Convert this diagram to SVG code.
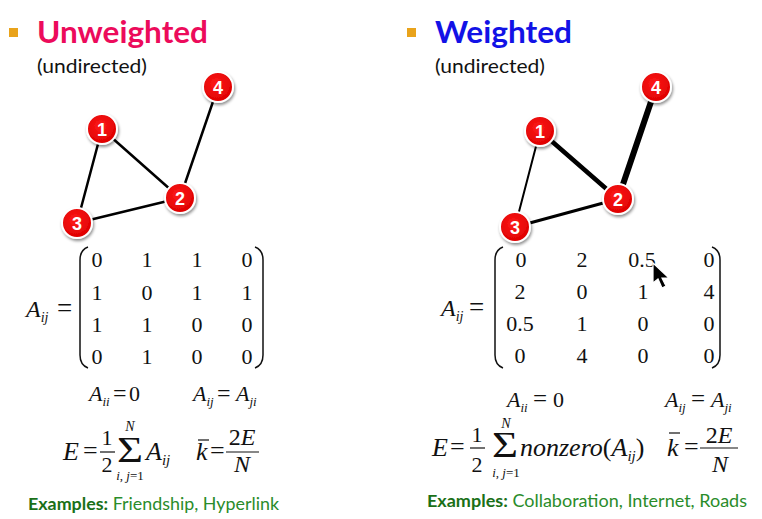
<svg xmlns="http://www.w3.org/2000/svg" width="762" height="519" viewBox="0 0 762 519">
<defs>
<filter id="sh" x="-40%" y="-40%" width="180%" height="180%">
<feDropShadow dx="1" dy="2" stdDeviation="1.5" flood-color="#000" flood-opacity="0.45"/>
</filter>
<radialGradient id="rg" cx="45%" cy="40%" r="60%">
<stop offset="0" stop-color="#FF1A1A"/>
<stop offset="1" stop-color="#DD0000"/>
</radialGradient>
</defs>
<style>
.bullet{fill:#E9A31B}
.title{font-family:Lato,"Liberation Sans",sans-serif;font-weight:bold;font-size:30px}
.sub{font-family:Lato,"Liberation Sans",sans-serif;font-size:19px;fill:#111}
.node circle{fill:url(#rg);stroke:#fff;stroke-width:2;filter:url(#sh)}
.node text{font-family:"Liberation Sans",Arial,sans-serif;font-weight:bold;font-size:18px;fill:#fff;text-anchor:middle}
.edge{stroke:#000;stroke-linecap:round}
.m{font-family:"Liberation Serif","Times New Roman",serif;fill:#111}
.mi{font-family:"Liberation Serif","Times New Roman",serif;font-style:italic;fill:#111}
.num{font-family:"Liberation Serif","Times New Roman",serif;font-size:22px;fill:#111;text-anchor:middle}
.par{fill:none;stroke:#111;stroke-width:1.5}
.fl{stroke:#111;stroke-width:1.2}
.ex{font-family:Lato,"Liberation Sans",sans-serif;font-size:17px;fill:#2A8C2A}
.exb{font-weight:bold;fill:#1A7018}
</style>

<!-- Left header -->
<rect class="bullet" x="9" y="28" width="9" height="9"/>
<text class="title" x="37" y="43" fill="#EC0B5B" textLength="171" lengthAdjust="spacingAndGlyphs">Unweighted</text>
<text class="sub" x="37" y="73" textLength="110" lengthAdjust="spacingAndGlyphs">(undirected)</text>

<!-- Right header -->
<rect class="bullet" x="407" y="28" width="9" height="9"/>
<text class="title" x="435" y="43" fill="#1212E6" textLength="137" lengthAdjust="spacingAndGlyphs">Weighted</text>
<text class="sub" x="435" y="73" textLength="110" lengthAdjust="spacingAndGlyphs">(undirected)</text>

<!-- Connectors -->
<g id="connectors">
<line class="edge" x1="102" y1="129" x2="180" y2="198" stroke-width="2.5"/>
<line class="edge" x1="102" y1="129" x2="77" y2="223" stroke-width="2.5"/>
<line class="edge" x1="77" y1="223" x2="180" y2="198" stroke-width="2.5"/>
<line class="edge" x1="180" y1="198" x2="218" y2="87" stroke-width="2.5"/>
<line class="edge" x1="540" y1="131" x2="618" y2="199" stroke-width="4.5"/>
<line class="edge" x1="540" y1="131" x2="515" y2="227" stroke-width="2"/>
<line class="edge" x1="515" y1="227" x2="618" y2="199" stroke-width="3"/>
<line class="edge" x1="618" y1="199" x2="656" y2="87" stroke-width="6"/>
</g>

<!-- Left nodes -->
<g id="L1" class="node"><circle cx="102" cy="129" r="15"/><text x="102" y="135.5">1</text></g>
<g id="L2" class="node"><circle cx="180" cy="198" r="15"/><text x="180" y="204.5">2</text></g>
<g id="L3" class="node"><circle cx="77" cy="223" r="15"/><text x="77" y="229.5">3</text></g>
<g id="L4" class="node"><circle cx="218" cy="87" r="15"/><text x="218" y="93.5">4</text></g>

<!-- Right nodes -->
<g id="R1" class="node"><circle cx="540" cy="131" r="15"/><text x="540" y="137.5">1</text></g>
<g id="R2" class="node"><circle cx="618" cy="199" r="15"/><text x="618" y="205.5">2</text></g>
<g id="R3" class="node"><circle cx="515" cy="227" r="15"/><text x="515" y="233.5">3</text></g>
<g id="R4" class="node"><circle cx="656" cy="87" r="15"/><text x="656" y="93.5">4</text></g>

<!-- Left matrix -->
<g id="leftMatrix">
<text class="mi" x="26" y="317" font-size="24">A<tspan dy="5" font-size="14">ij</tspan></text>
<text class="m" x="57" y="317" font-size="27">=</text>
<path class="par" d="M88,247 Q80,250 80,260 L80,355 Q80,365 88,368"/>
<path class="par" d="M255,247 Q263,250 263,260 L263,355 Q263,365 255,368"/>
<g class="num">
<text x="97" y="267">0</text><text x="147" y="267">1</text><text x="197" y="267">1</text><text x="247" y="267">0</text>
<text x="97" y="300">1</text><text x="147" y="300">0</text><text x="197" y="300">1</text><text x="247" y="300">1</text>
<text x="97" y="332">1</text><text x="147" y="332">1</text><text x="197" y="332">0</text><text x="247" y="332">0</text>
<text x="97" y="364">0</text><text x="147" y="364">1</text><text x="197" y="364">0</text><text x="247" y="364">0</text>
</g>
</g>

<!-- Left properties -->
<g id="leftProps">
<text class="mi" x="89" y="401" font-size="22">A<tspan dy="5" font-size="13">ii</tspan></text>
<text class="m" x="113" y="401" font-size="24">=</text>
<text class="m" x="129" y="401" font-size="22">0</text>
<text class="mi" x="193" y="401" font-size="22">A<tspan dy="5" font-size="13">ij</tspan></text>
<text class="m" x="217" y="401" font-size="24">=</text>
<text class="mi" x="236" y="401" font-size="22">A<tspan dy="5" font-size="13">ji</tspan></text>

<text class="mi" x="63" y="460" font-size="26">E</text>
<text class="m" x="83" y="459" font-size="26">=</text>
<text class="m" x="107" y="445" font-size="22" text-anchor="middle">1</text>
<line class="fl" x1="100" y1="452" x2="115" y2="452"/>
<text class="m" x="107" y="472" font-size="22" text-anchor="middle">2</text>
<text class="m" x="117" y="462" font-size="36" textLength="26" lengthAdjust="spacingAndGlyphs">Σ</text>
<text class="mi" x="130" y="431" font-size="14" text-anchor="middle">N</text>
<text class="mi" x="130" y="480" font-size="13" text-anchor="middle">i<tspan font-style="normal">,</tspan> j<tspan font-style="normal">=1</tspan></text>
<text class="mi" x="146" y="460" font-size="26">A<tspan dy="5" font-size="15">ij</tspan></text>
<text class="mi" x="196" y="460" font-size="26">k</text>
<line class="fl" x1="198" y1="440" x2="209" y2="440"/>
<text class="m" x="210" y="459" font-size="26">=</text>
<text class="m" x="242" y="445" font-size="24" text-anchor="middle">2<tspan font-style="italic">E</tspan></text>
<line class="fl" x1="226" y1="452" x2="259" y2="452"/>
<text class="mi" x="242" y="472" font-size="24" text-anchor="middle">N</text>
</g>

<!-- Right matrix -->
<g id="rightMatrix">
<text class="mi" x="441" y="316" font-size="24">A<tspan dy="5" font-size="14">ij</tspan></text>
<text class="m" x="469" y="316" font-size="27">=</text>
<path class="par" d="M503,247 Q495,250 495,260 L495,355 Q495,365 503,368"/>
<path class="par" d="M712,247 Q720,250 720,260 L720,355 Q720,365 712,368"/>
<g class="num">
<text x="521" y="267">0</text><text x="582" y="267">2</text><text x="642" y="267">0.5</text><text x="709" y="267">0</text>
<text x="520" y="299">2</text><text x="582" y="299">0</text><text x="643" y="299">1</text><text x="709" y="299">4</text>
<text x="520" y="331">0.5</text><text x="582" y="331">1</text><text x="643" y="331">0</text><text x="709" y="331">0</text>
<text x="520" y="363">0</text><text x="582" y="363">4</text><text x="643" y="363">0</text><text x="709" y="363">0</text>
</g>
</g>

<!-- Right properties -->
<g id="rightProps">
<text class="mi" x="507" y="407" font-size="22">A<tspan dy="5" font-size="13">ii</tspan></text>
<text class="m" x="533" y="407" font-size="25">=</text>
<text class="m" x="553" y="407" font-size="22">0</text>
<text class="mi" x="665" y="407" font-size="22">A<tspan dy="5" font-size="13">ij</tspan></text>
<text class="m" x="691" y="407" font-size="25">=</text>
<text class="mi" x="711" y="407" font-size="22">A<tspan dy="5" font-size="13">ji</tspan></text>

<text class="mi" x="432" y="456" font-size="26">E</text>
<text class="m" x="450" y="455" font-size="26">=</text>
<text class="m" x="477" y="442" font-size="22" text-anchor="middle">1</text>
<line class="fl" x1="470" y1="448" x2="485" y2="448"/>
<text class="m" x="477" y="472" font-size="22" text-anchor="middle">2</text>
<text class="m" x="492" y="457" font-size="36" textLength="26" lengthAdjust="spacingAndGlyphs">Σ</text>
<text class="mi" x="506" y="428" font-size="14" text-anchor="middle">N</text>
<text class="mi" x="506" y="477" font-size="13" text-anchor="middle">i<tspan font-style="normal">,</tspan> j<tspan font-style="normal">=1</tspan></text>
<text class="mi" x="520" y="456" font-size="26">nonzero<tspan font-style="normal">(</tspan>A<tspan dy="5" font-size="15">ij</tspan><tspan dy="-5" font-style="normal">)</tspan></text>
<text class="mi" x="667" y="456" font-size="26">k</text>
<line class="fl" x1="669" y1="433" x2="680" y2="433"/>
<text class="m" x="684" y="455" font-size="26">=</text>
<text class="m" x="719" y="443" font-size="24" text-anchor="middle">2<tspan font-style="italic">E</tspan></text>
<line class="fl" x1="700" y1="448" x2="738" y2="448"/>
<text class="mi" x="720" y="472" font-size="24" text-anchor="middle">N</text>
</g>

<!-- Cursor -->
<polygon points="653,263 653,283 658,279 662,288 666,286 662,278 669,278" fill="#000" stroke="#fff" stroke-width="1.2"/>

<!-- Examples -->
<text class="ex" x="28" y="510" textLength="251" lengthAdjust="spacingAndGlyphs"><tspan class="exb">Examples:</tspan> Friendship, Hyperlink</text>
<text class="ex" x="427" y="507" textLength="320" lengthAdjust="spacingAndGlyphs"><tspan class="exb">Examples:</tspan> Collaboration, Internet, Roads</text>
</svg>
